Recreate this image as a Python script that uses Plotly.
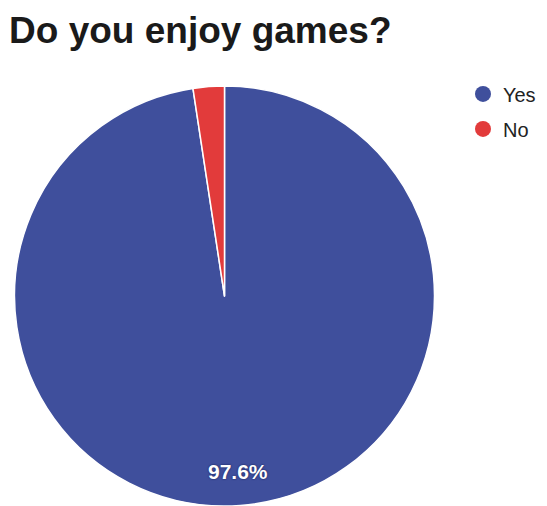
import math
import plotly.graph_objects as go

categories = ["Yes", "No"]
values = [97.6, 2.4]
colors = ["#3f4f9c", "#e23b3b"]

W, H = 547, 506
dom_x = [0.0119, 0.7797]
dom_y = [0.0158, 0.8458]

fig = go.Figure()
fig.add_trace(go.Pie(
    labels=categories,
    values=values,
    sort=False,
    direction="clockwise",
    rotation=0,
    marker=dict(colors=colors, line=dict(color="white", width=1.5)),
    textinfo="none",
    showlegend=False,
    domain=dict(x=dom_x, y=dom_y),
    hoverinfo="label+percent",
))

# percentage label of the big slice, placed at its mid-angle (derived from the data)
total = sum(values)
frac = values[0] / total
mid = frac * math.pi  # mid-angle, clockwise from top
cx = (dom_x[0] + dom_x[1]) / 2 * W
cy = (1 - (dom_y[0] + dom_y[1]) / 2) * H
r = min((dom_x[1] - dom_x[0]) * W, (dom_y[1] - dom_y[0]) * H) / 2
rr = 0.84 * r
tx = cx + rr * math.sin(mid)
ty = cy - rr * math.cos(mid)
fig.add_annotation(
    x=tx / W, y=1 - ty / H, xref="paper", yref="paper",
    xanchor="center", yanchor="middle",
    text=f"<b>{frac*100:.1f}%</b>", showarrow=False,
    font=dict(family="Arial, Liberation Sans", size=21, color="white",
              shadow="0px 0px 2px #10184f"),
)

# legend entries with circular markers
for i, (name, col) in enumerate(zip(categories, colors)):
    fig.add_trace(go.Scatter(
        x=[None], y=[None], mode="markers", name=name, legendgroup=f"g{i}",
        marker=dict(symbol="circle", size=16, color=col),
        showlegend=True,
    ))

fig.update_layout(
    width=W, height=H,
    margin=dict(l=0, r=0, t=0, b=0),
    paper_bgcolor="white", plot_bgcolor="white",
    title=dict(text="<b>Do you enjoy games?</b>", x=0.002, xanchor="left",
               y=0.9565, yanchor="middle",
               font=dict(family="Arial, Liberation Sans", size=37, color="#1a1a1a")),
    xaxis=dict(visible=False), yaxis=dict(visible=False),
    legend=dict(x=0.8318, y=0.8688, xanchor="left", yanchor="top",
                font=dict(family="Arial, Liberation Sans", size=20, color="#222"),
                itemsizing="trace", tracegroupgap=6),
)

fig.write_html("out.html")
